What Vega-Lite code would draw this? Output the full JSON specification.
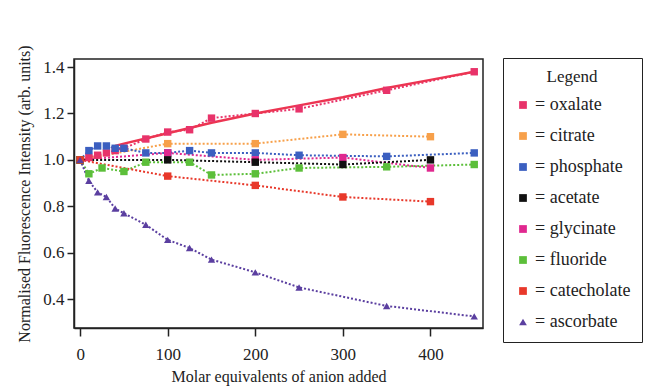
{
  "$schema": "https://vega.github.io/schema/vega-lite/v6.json",
  "width": 409,
  "height": 269,
  "autosize": {"type": "none"},
  "padding": {"left": 74, "top": 59, "right": 162, "bottom": 58},
  "background": "white",
  "config": {
    "font": "serif",
    "view": {"stroke": "#222", "strokeWidth": 1.5},
    "axis": {
      "grid": false, "domainColor": "#222", "domainWidth": 1.5, "tickColor": "#222", "tickWidth": 1.5,
      "labelFont": "serif", "labelFontSize": 17, "labelColor": "#222",
      "titleFont": "serif", "titleFontSize": 16, "titleFontWeight": "normal", "titleColor": "#222"
    },
    "legend": {
      "labelFont": "serif", "labelFontSize": 18, "labelColor": "#222",
      "titleFont": "serif", "titleFontSize": 17, "titleFontWeight": "normal", "titleColor": "#222"
    }
  },
  "datasets": {
    "obs": [
      {"a": "oxalate", "x": 0, "y": 1.0}, {"a": "oxalate", "x": 10, "y": 1.01}, {"a": "oxalate", "x": 20, "y": 1.02},
      {"a": "oxalate", "x": 30, "y": 1.03}, {"a": "oxalate", "x": 40, "y": 1.04}, {"a": "oxalate", "x": 50, "y": 1.05},
      {"a": "oxalate", "x": 75, "y": 1.09}, {"a": "oxalate", "x": 100, "y": 1.12}, {"a": "oxalate", "x": 125, "y": 1.13},
      {"a": "oxalate", "x": 150, "y": 1.18}, {"a": "oxalate", "x": 200, "y": 1.2}, {"a": "oxalate", "x": 250, "y": 1.22},
      {"a": "oxalate", "x": 350, "y": 1.3}, {"a": "oxalate", "x": 450, "y": 1.38},
      {"a": "citrate", "x": 0, "y": 1.0}, {"a": "citrate", "x": 100, "y": 1.07}, {"a": "citrate", "x": 200, "y": 1.07},
      {"a": "citrate", "x": 300, "y": 1.11}, {"a": "citrate", "x": 400, "y": 1.1},
      {"a": "phosphate", "x": 0, "y": 1.0}, {"a": "phosphate", "x": 10, "y": 1.04}, {"a": "phosphate", "x": 20, "y": 1.06},
      {"a": "phosphate", "x": 30, "y": 1.06}, {"a": "phosphate", "x": 40, "y": 1.05}, {"a": "phosphate", "x": 50, "y": 1.05},
      {"a": "phosphate", "x": 75, "y": 1.03}, {"a": "phosphate", "x": 100, "y": 1.03}, {"a": "phosphate", "x": 125, "y": 1.04},
      {"a": "phosphate", "x": 150, "y": 1.03}, {"a": "phosphate", "x": 200, "y": 1.03}, {"a": "phosphate", "x": 250, "y": 1.02},
      {"a": "phosphate", "x": 350, "y": 1.015}, {"a": "phosphate", "x": 450, "y": 1.03},
      {"a": "glycinate", "x": 0, "y": 1.0}, {"a": "glycinate", "x": 100, "y": 1.03}, {"a": "glycinate", "x": 200, "y": 1.0},
      {"a": "glycinate", "x": 300, "y": 1.01}, {"a": "glycinate", "x": 400, "y": 0.965},
      {"a": "acetate", "x": 0, "y": 1.0}, {"a": "acetate", "x": 100, "y": 1.0}, {"a": "acetate", "x": 200, "y": 0.99},
      {"a": "acetate", "x": 300, "y": 0.98}, {"a": "acetate", "x": 400, "y": 1.0},
      {"a": "fluoride", "x": 0, "y": 1.0}, {"a": "fluoride", "x": 10, "y": 0.94}, {"a": "fluoride", "x": 25, "y": 0.965},
      {"a": "fluoride", "x": 50, "y": 0.95}, {"a": "fluoride", "x": 75, "y": 0.99}, {"a": "fluoride", "x": 125, "y": 0.99},
      {"a": "fluoride", "x": 150, "y": 0.935}, {"a": "fluoride", "x": 200, "y": 0.94}, {"a": "fluoride", "x": 250, "y": 0.965},
      {"a": "fluoride", "x": 350, "y": 0.97}, {"a": "fluoride", "x": 450, "y": 0.98},
      {"a": "catecholate", "x": 0, "y": 1.0}, {"a": "catecholate", "x": 100, "y": 0.93}, {"a": "catecholate", "x": 200, "y": 0.89},
      {"a": "catecholate", "x": 300, "y": 0.84}, {"a": "catecholate", "x": 400, "y": 0.82},
      {"a": "ascorbate", "x": 0, "y": 1.0}, {"a": "ascorbate", "x": 10, "y": 0.91}, {"a": "ascorbate", "x": 20, "y": 0.86},
      {"a": "ascorbate", "x": 30, "y": 0.84}, {"a": "ascorbate", "x": 40, "y": 0.79}, {"a": "ascorbate", "x": 50, "y": 0.77},
      {"a": "ascorbate", "x": 75, "y": 0.72}, {"a": "ascorbate", "x": 100, "y": 0.655}, {"a": "ascorbate", "x": 125, "y": 0.62},
      {"a": "ascorbate", "x": 150, "y": 0.57}, {"a": "ascorbate", "x": 200, "y": 0.515}, {"a": "ascorbate", "x": 250, "y": 0.45},
      {"a": "ascorbate", "x": 350, "y": 0.37}, {"a": "ascorbate", "x": 450, "y": 0.325}
    ],
    "fit": [
      {"x": 40, "y": 1.06}, {"x": 50, "y": 1.07}, {"x": 100, "y": 1.115}, {"x": 150, "y": 1.16},
      {"x": 200, "y": 1.2}, {"x": 250, "y": 1.235}, {"x": 300, "y": 1.27}, {"x": 350, "y": 1.31},
      {"x": 400, "y": 1.345}, {"x": 450, "y": 1.38}
    ]
  },
  "layer": [
    {
      "data": {"name": "obs"},
      "mark": {"type": "line", "strokeDash": [2, 2], "strokeWidth": 2, "clip": true},
      "encoding": {
        "x": {"field": "x", "type": "quantitative", "scale": {"domain": [-7, 460], "nice": false, "zero": false},
          "axis": {"values": [0, 100, 200, 300, 400], "tickSize": 8, "labelPadding": 10, "title": "Molar equivalents of anion added", "titlePadding": 6}},
        "y": {"field": "y", "type": "quantitative", "scale": {"domain": [0.275, 1.435], "nice": false, "zero": false},
          "axis": {"values": [0.4, 0.6, 0.8, 1.0, 1.2, 1.4], "format": ".1f", "tickSize": 7, "labelPadding": 3, "title": "Normalised Fluorescence Intensity (arb. units)", "titlePadding": 10}},
        "color": {"field": "a", "type": "nominal", "title": "Legend"},
        "order": {"field": "x", "type": "quantitative"}
      }
    },
    {
      "data": {"name": "fit"},
      "mark": {"type": "line", "color": "#ec3552", "strokeWidth": 2.5},
      "encoding": {
        "x": {"field": "x", "type": "quantitative"},
        "y": {"field": "y", "type": "quantitative"}
      }
    },
    {
      "data": {"name": "obs"},
      "mark": {"type": "point", "filled": true, "opacity": 1, "size": 55, "clip": true},
      "encoding": {
        "x": {"field": "x", "type": "quantitative"},
        "y": {"field": "y", "type": "quantitative"},
        "color": {"field": "a", "type": "nominal", "title": "Legend",
          "scale": {"domain": ["oxalate", "citrate", "phosphate", "acetate", "glycinate", "fluoride", "catecholate", "ascorbate"],
            "range": ["#e8336a", "#f7a04a", "#3b5fc0", "#111111", "#e0288f", "#5cbf3a", "#e8382a", "#5b3fa0"]},
          "legend": {"orient": "none", "legendX": 429, "legendY": -1, "labelExpr": "'= ' + datum.label",
            "padding": 11, "rowPadding": 13, "titlePadding": 10, "titleAnchor": "middle", "symbolSize": 60,
            "symbolType": "square", "symbolStrokeWidth": 0,
            "strokeColor": "#222", "fillColor": "white", "labelOffset": 3}},
        "shape": {"field": "a", "type": "nominal", "title": "Legend",
          "scale": {"domain": ["oxalate", "citrate", "phosphate", "acetate", "glycinate", "fluoride", "catecholate", "ascorbate"],
            "range": ["square", "square", "square", "square", "square", "square", "square", "triangle-up"]}}
      }
    }
  ]
}
